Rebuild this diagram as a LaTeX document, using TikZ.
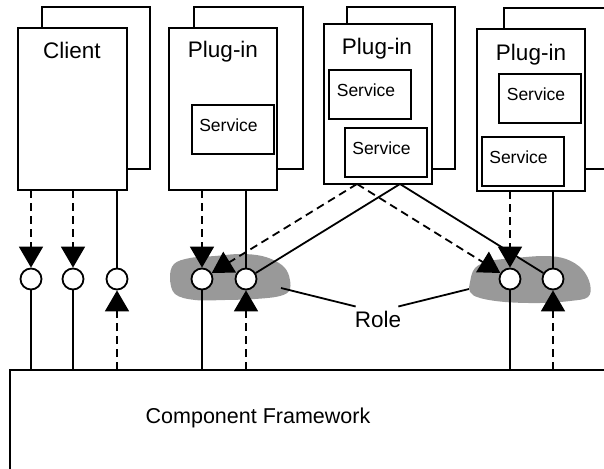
\documentclass[tikz,border=0pt]{standalone}
\usepackage{fontspec}
\setmainfont{Liberation Sans}
\usetikzlibrary{arrows.meta}
\begin{document}
\begin{tikzpicture}[x=1pt,y=-1pt,
  lw/.style={line width=1.8pt},
  box/.style={draw,lw,fill=white,anchor=north west,inner sep=0pt,outer sep=0pt},
  port/.style={circle,draw,lw,fill=white,minimum size=21pt,inner sep=0pt},
  tip/.style={-{Triangle[length=21pt,width=24pt]}},
  dsh/.style={dash pattern=on 8pt off 5pt},
  lbl/.style={font=\fontsize{22.5}{27}\selectfont,anchor=base,inner sep=0pt},
  svc/.style={font=\fontsize{17.5}{21}\selectfont,anchor=base,inner sep=0pt},
  fwl/.style={font=\fontsize{21.5}{26}\selectfont,anchor=base,inner sep=0pt},
  blob/.style={fill={rgb,255:red,153;green,153;blue,153}}
]
\useasboundingbox (0,0) rectangle (604,468);
\clip (0,0) rectangle (604,468);

% framework
\node[box,minimum width=620pt,minimum height=120pt] (fw) at (10,370) {};
\node[fwl] (fwt) at (258,423) {Component Framework};

% client
\node[box,minimum width=108pt,minimum height=162pt] (clientb) at (42,7) {};
\node[box,minimum width=109pt,minimum height=162pt] (client) at (18,28) {};
\node[lbl] (clientt) at (72,59) {Client};

% plug-in 1
\node[box,minimum width=109pt,minimum height=162pt] (p1b) at (194,7) {};
\node[box,minimum width=108pt,minimum height=162pt] (p1) at (169,28) {};
\node[lbl] (p1t) at (223,58) {Plug-in};
\node[box,minimum width=82pt,minimum height=49pt] (s1) at (192,105) {};
\node[svc] (s1t) at (228.5,131) {Service};

% plug-in 2
\node[box,minimum width=108pt,minimum height=162pt] (p2b) at (347,7) {};
\node[box,minimum width=108pt,minimum height=160pt] (p2) at (324,24) {};
\node[lbl] (p2t) at (377,55) {Plug-in};
\node[box,minimum width=82pt,minimum height=49pt] (s2a) at (329,70) {};
\node[svc] (s2at) at (366,97) {Service};
\node[box,minimum width=82pt,minimum height=49pt] (s2b) at (345,128) {};
\node[svc] (s2bt) at (381.5,154) {Service};

% plug-in 3
\node[box,minimum width=116pt,minimum height=161pt] (p3b) at (504,8) {};
\node[box,minimum width=108pt,minimum height=162pt] (p3) at (477,29) {};
\node[lbl] (p3t) at (531,61) {Plug-in};
\node[box,minimum width=82pt,minimum height=49pt] (s3a) at (499,74) {};
\node[svc] (s3at) at (536,101) {Service};
\node[box,minimum width=82pt,minimum height=49pt] (s3b) at (482,137) {};
\node[svc] (s3bt) at (518.5,163) {Service};

% role blobs
\fill[blob] plot[smooth cycle,tension=0.6] coordinates {(170,278) (174,264) (190,258) (215,256) (240,254) (262,256) (279,263) (288,273) (290,289) (280,296) (255,299) (225,300) (195,300) (175,294)};
\fill[blob] plot[smooth cycle,tension=0.6] coordinates {(470,282) (475,268) (490,261) (515,258) (545,256) (566,259) (582,269) (590,284) (588,297) (570,301) (540,303) (505,302) (480,298) (470,292)};
\coordinate (bl) at (281,288);
\coordinate (br) at (469,289);

% ports
\node[port] (c1) at (31,279) {};
\node[port] (c2) at (73,279) {};
\node[port] (c3) at (117,279) {};
\node[port] (c4) at (202,279) {};
\node[port] (c5) at (246,279) {};
\node[port] (c6) at (510,279) {};
\node[port] (c7) at (553,279) {};

% client connectors
\draw[lw,dsh,tip] (client.south -| c1) -- (c1);
\draw[lw] (c1) -- (c1 |- fw.north);
\draw[lw,dsh,tip] (client.south -| c2) -- (c2);
\draw[lw] (c2) -- (c2 |- fw.north);
\draw[lw] (client.south -| c3) -- (c3);
\draw[lw,dsh,tip] (fw.north -| c3) -- (c3);

% plug-in 1 connectors
\draw[lw,dsh,tip] (p1.south -| c4) -- (c4);
\draw[lw] (c4) -- (c4 |- fw.north);
\draw[lw] (p1.south -| c5) -- (c5);
\draw[lw,dsh,tip] (fw.north -| c5) -- (c5);

% plug-in 3 connectors
\draw[lw,dsh,tip] (p3.south -| c6) -- (c6);
\draw[lw] (c6) -- (c6 |- fw.north);
\draw[lw] (p3.south -| c7) -- (c7);
\draw[lw,dsh,tip] (fw.north -| c7) -- (c7);

% plug-in 2 cross connectors
\coordinate (p2d) at (357,184);
\coordinate (p2s) at (400,184);
\draw[lw,dsh,tip] (p2d) -- (c4);
\draw[lw,dsh,tip] (p2d) -- (c6);
\draw[lw] (p2s) -- (c5);
\draw[lw] (p2s) -- (c7);

% role
\node[lbl] (role) at (378,327) {Role};
\draw[lw] ([shift={(1,-4)}]role.north west) -- (bl);
\draw[lw] ([shift={(-3,-4)}]role.north east) -- (br);
\end{tikzpicture}
\end{document}
